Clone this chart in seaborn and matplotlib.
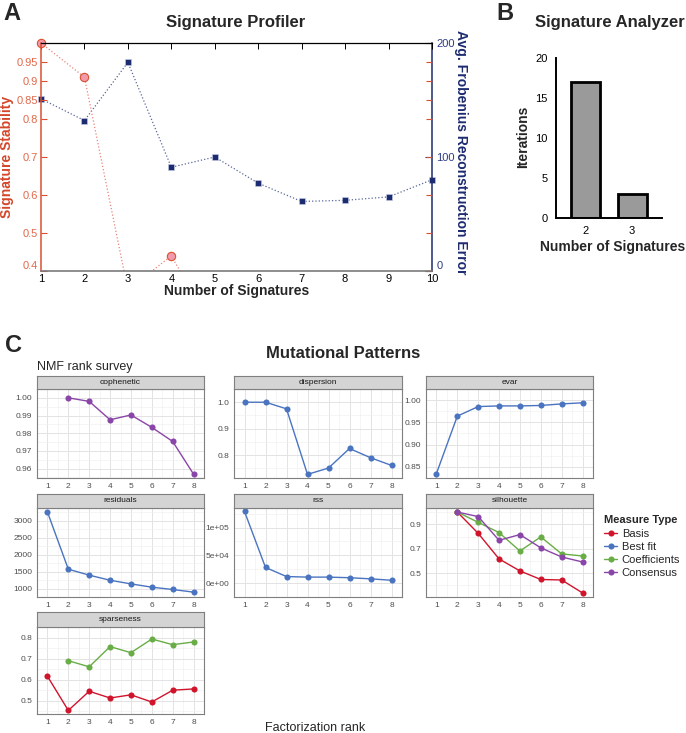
import numpy as np
import pandas as pd
import matplotlib
matplotlib.use('Agg')
import matplotlib.pyplot as plt
import matplotlib.transforms as mtransforms
from matplotlib.lines import Line2D
import seaborn as sns

# ---- A: Signature Profiler ----
n_sigs = [1, 2, 3, 4, 5, 6, 7, 8, 9, 10]
frob_error = [151, 132, 183, 91, 100, 77, 61, 62, 65, 80]
stab_sigs = [1, 2, 3, 4, 5]
stability = [1.0, 0.91, 0.35, 0.44, 0.24]
stab_ticks = [0.4, 0.5, 0.6, 0.7, 0.8, 0.85, 0.9, 0.95]
stab_labels = ['0.4', '0.5', '0.6', '0.7', '0.8', '0.85', '0.9', '0.95']

# ---- B: Signature Analyzer ----
sa_sigs = ['2', '3']
sa_iterations = [17, 3]

# ---- C: NMF rank survey ----
cophenetic_cons = [1.000, 0.998, 0.9876, 0.9903, 0.9833, 0.9753, 0.9568]   # ranks 2-8
dispersion_fit = [1.0, 1.0, 0.975, 0.727, 0.751, 0.825, 0.790, 0.761]       # ranks 1-8
evar_fit = [0.835, 0.964, 0.9855, 0.987, 0.987, 0.988, 0.9915, 0.994]
residuals_fit = [3252, 1568, 1393, 1243, 1136, 1039, 971, 893]
rss_fit = [129000, 28200, 11800, 10800, 10800, 9700, 7700, 5100]
silhouette_basis = [1.0, 0.826, 0.617, 0.519, 0.449, 0.445, 0.339]           # ranks 2-8
silhouette_coef = [1.0, 0.916, 0.832, 0.682, 0.797, 0.658, 0.641]
silhouette_cons = [1.0, 0.963, 0.769, 0.816, 0.707, 0.633, 0.592]
sparseness_basis = [0.616, 0.454, 0.545, 0.513, 0.528, 0.494, 0.550, 0.556]  # ranks 1-8
sparseness_coef = [0.690, 0.661, 0.757, 0.728, 0.793, 0.766, 0.779]          # ranks 2-8

facet_names = ['cophenetic', 'dispersion', 'evar', 'residuals', 'rss', 'silhouette', 'sparseness']
facet_yticks = {
    'cophenetic': [0.96, 0.97, 0.98, 0.99, 1.00],
    'dispersion': [0.8, 0.9, 1.0],
    'evar': [0.85, 0.90, 0.95, 1.00],
    'residuals': [1000, 1500, 2000, 2500, 3000],
    'rss': [0, 50000, 100000],
    'silhouette': [0.5, 0.7, 0.9],
    'sparseness': [0.5, 0.6, 0.7, 0.8],
}
facet_ylabels = {
    'cophenetic': ['0.96', '0.97', '0.98', '0.99', '1.00'],
    'dispersion': ['0.8', '0.9', '1.0'],
    'evar': ['0.85', '0.90', '0.95', '1.00'],
    'residuals': ['1000', '1500', '2000', '2500', '3000'],
    'rss': ['0e+00', '5e+04', '1e+05'],
    'silhouette': ['0.5', '0.7', '0.9'],
    'sparseness': ['0.5', '0.6', '0.7', '0.8'],
}
measure_types = ['Basis', 'Best fit', 'Coefficients', 'Consensus']
type_colors = ['#d0142c', '#4a74c0', '#68ad45', '#8a45a8']

r_all = list(range(1, 9))
r_from2 = list(range(2, 9))
rows = []
def add(measure, mtype, ranks, vals):
    for r, v in zip(ranks, vals):
        rows.append({'rank': r, 'value': v, 'measure': measure, 'type': mtype})
add('cophenetic', 'Consensus', r_from2, cophenetic_cons)
add('dispersion', 'Best fit', r_all, dispersion_fit)
add('evar', 'Best fit', r_all, evar_fit)
add('residuals', 'Best fit', r_all, residuals_fit)
add('rss', 'Best fit', r_all, rss_fit)
add('silhouette', 'Basis', r_from2, silhouette_basis)
add('silhouette', 'Coefficients', r_from2, silhouette_coef)
add('silhouette', 'Consensus', r_from2, silhouette_cons)
add('sparseness', 'Basis', r_all, sparseness_basis)
add('sparseness', 'Coefficients', r_from2, sparseness_coef)
survey = pd.DataFrame(rows)

sns.set_style('white')
plt.rcParams['font.family'] = ['Liberation Sans', 'DejaVu Sans']

W, H = 686, 733
fig = plt.figure(figsize=(W / 100, H / 100), dpi=100)

def px_axes(x0, y0, x1, y1):
    return fig.add_axes([x0 / W, 1 - y1 / H, (x1 - x0) / W, (y1 - y0) / H])

def px_text(x, y, s, **kw):
    return fig.text(x / W, 1 - y / H, s, **kw)

# ================= panel A =================
red = '#d9502f'
red_light = '#e2694a'
navy = '#1d2b70'

axA = px_axes(41, 43, 432, 271)
axA.set_facecolor('none')
ax2 = axA.twinx()
sns.lineplot(x=n_sigs, y=frob_error, ax=ax2, color='#5a6899', linestyle=':', linewidth=0.9,
             marker='s', markersize=4, markerfacecolor=navy, markeredgecolor='#c8d0ea',
             markeredgewidth=0.4)
sns.lineplot(x=stab_sigs, y=stability, ax=axA, color='#e8857a', linestyle=':', linewidth=0.9,
             marker='o', markersize=6, markerfacecolor='#f29aab', markeredgecolor=red,
             markeredgewidth=0.8)
axA.set_zorder(ax2.get_zorder() + 1)
axA.set_xlim(1, 10)
axA.set_ylim(0.4, 1.0)
ax2.set_ylim(0, 200)
ax2.set_xlim(1, 10)
for ln in ax2.lines:
    ln.set_clip_on(False)
# values below the axis floor are cut at the bottom edge only
clipbox = mtransforms.TransformedBbox(mtransforms.Bbox([[-0.03, 0], [1.03, 1.05]]), axA.transAxes)
for ln in axA.lines:
    ln.set_clip_box(clipbox)
    ln.set_clip_on(True)

axA.set_xticks(n_sigs)
axA.set_xticklabels([str(k) for k in n_sigs])
axA.set_yticks(stab_ticks)
axA.set_yticklabels(stab_labels)
axA.tick_params(axis='x', direction='in', top=True, length=4, width=0.7, colors='black',
                labelsize=8, pad=2)
axA.tick_params(axis='y', direction='in', right=True, length=4, width=0.8, colors=red,
                labelcolor=red_light, labelsize=8, pad=2)
ax2.set_yticks([0, 100, 200])
ax2.set_yticklabels(['0', '100', '200'])
ax2.tick_params(axis='y', direction='in', length=5, width=0.8, colors=navy, labelcolor='#2f3c85',
                labelsize=8, pad=3)
for s in ['left', 'top', 'bottom']:
    ax2.spines[s].set_visible(False)
ax2.spines['right'].set_color(navy)
ax2.spines['right'].set_linewidth(1.1)
axA.spines['right'].set_visible(False)
axA.spines['left'].set_color(red)
axA.spines['left'].set_linewidth(1.1)
axA.spines['top'].set_color('black')
axA.spines['top'].set_linewidth(0.9)
axA.spines['bottom'].set_color('#7a7a7a')
axA.spines['bottom'].set_linewidth(1.2)
axA.set_xlabel('')
axA.set_ylabel('')
ax2.set_ylabel('')
axA.get_yticklabels()[0].set_va('bottom')
ax2.get_yticklabels()[0].set_va('bottom')

px_text(12, 13, 'A', fontsize=17, fontweight='bold', ha='center', va='center')
px_text(236, 22, 'Signature Profiler', fontsize=12, fontweight='bold', ha='center', va='center')
px_text(237, 291, 'Number of Signatures', fontsize=10, fontweight='bold', ha='center', va='center')
px_text(7, 157, 'Signature Stability', fontsize=10, fontweight='bold', color='#d4462a',
        rotation=90, ha='center', va='center')
px_text(461, 152, 'Avg. Frobenius Reconstruction Error', fontsize=10, fontweight='bold', color=navy,
        rotation=-90, ha='center', va='center')

# ================= panel B =================
axB = px_axes(556, 58, 662, 218)
sns.barplot(x=sa_sigs, y=sa_iterations, ax=axB, color='#9a9a9a', edgecolor='black',
            linewidth=2, width=0.63, saturation=1)
axB.set_xlim(-0.65, 1.65)
axB.set_ylim(0, 20)
axB.set_yticks([0, 5, 10, 15, 20])
sns.despine(ax=axB)
for s in ['left', 'bottom']:
    axB.spines[s].set_linewidth(1.4)
    axB.spines[s].set_color('black')
axB.tick_params(axis='both', direction='out', length=4, width=1.2, labelsize=8, pad=2,
                colors='black')
axB.set_xlabel('')
axB.set_ylabel('')
px_text(505, 13, 'B', fontsize=17, fontweight='bold', ha='center', va='center')
px_text(610, 22, 'Signature Analyzer', fontsize=12, fontweight='bold', ha='center', va='center')
px_text(613, 247, 'Number of Signatures', fontsize=10, fontweight='bold', ha='center', va='center')
px_text(523, 137, 'Iterations', fontsize=10, fontweight='bold', rotation=90,
        ha='center', va='center')

# ================= panel C =================
px_text(13, 345, 'C', fontsize=17, fontweight='bold', ha='center', va='center')
px_text(343, 353, 'Mutational Patterns', fontsize=12, fontweight='bold', ha='center', va='center')
px_text(37, 367, 'NMF rank survey', fontsize=9, ha='left', va='center')
px_text(315, 728, 'Factorization rank', fontsize=9, ha='center', va='center')

col_x = [(37, 204), (234, 402), (426, 593)]
row_y = [(376, 389, 478), (494, 508, 597), (612, 627, 714)]
palette = dict(zip(measure_types, type_colors))
border = '#7f7f7f'

for i, name in enumerate(facet_names):
    r, c = divmod(i, 3)
    x0, x1 = col_x[c]
    s0, p0, p1 = row_y[r]
    ax = px_axes(x0, p0, x1, p1)
    sub = survey[survey['measure'] == name]
    sns.lineplot(data=sub, x='rank', y='value', hue='type', palette=palette, ax=ax,
                 marker='o', markersize=4.4, markeredgewidth=0, linewidth=1.0, legend=False)
    ax.set_xlim(0.65, 8.35)
    vmin, vmax = sub['value'].min(), sub['value'].max()
    pad = (vmax - vmin) * 0.05
    ax.set_ylim(vmin - pad, vmax + pad)
    yt = facet_yticks[name]
    step = yt[1] - yt[0]
    ax.set_yticks(yt)
    ax.set_yticklabels(facet_ylabels[name])
    ax.set_xticks(r_all)
    ax.set_xticklabels([str(k) for k in r_all])
    ax.set_yticks([t - step / 2 for t in yt] + [yt[-1] + step / 2], minor=True)
    ax.set_xticks([k + 0.5 for k in range(0, 9)], minor=True)
    ax.grid(which='major', color='#e3e3e3', linewidth=0.7)
    ax.grid(which='minor', color='#f0f0f0', linewidth=0.45)
    ax.set_axisbelow(True)
    ax.tick_params(which='major', direction='out', length=2, width=0.5, color='#333333',
                   labelcolor='#4d4d4d', labelsize=6, pad=1.5)
    ax.tick_params(which='minor', length=0)
    for sp in ax.spines.values():
        sp.set_color(border)
        sp.set_linewidth(0.8)
    ax.set_xlabel('')
    ax.set_ylabel('')
    # facet strip
    st = px_axes(x0, s0, x1, p0)
    st.set_facecolor('#d4d4d4')
    st.set_xticks([])
    st.set_yticks([])
    for sp in st.spines.values():
        sp.set_color(border)
        sp.set_linewidth(0.8)
    st.text(0.5, 0.5, name, transform=st.transAxes, ha='center', va='center',
            fontsize=6, color='#1a1a1a')

handles = [Line2D([0], [0], color=col, marker='o', markersize=4.4, markeredgewidth=0,
                  linewidth=1.0) for col in type_colors]
leg = fig.legend(handles, measure_types, title='Measure Type', loc='upper left',
                 bbox_to_anchor=(600 / W, 1 - 511 / H), frameon=False, fontsize=8,
                 title_fontsize=8, handlelength=1.1, handletextpad=0.45,
                 labelspacing=0.28, borderaxespad=0, alignment='left')
leg.get_title().set_fontweight('bold')

fig.savefig('out.png', dpi=100)
